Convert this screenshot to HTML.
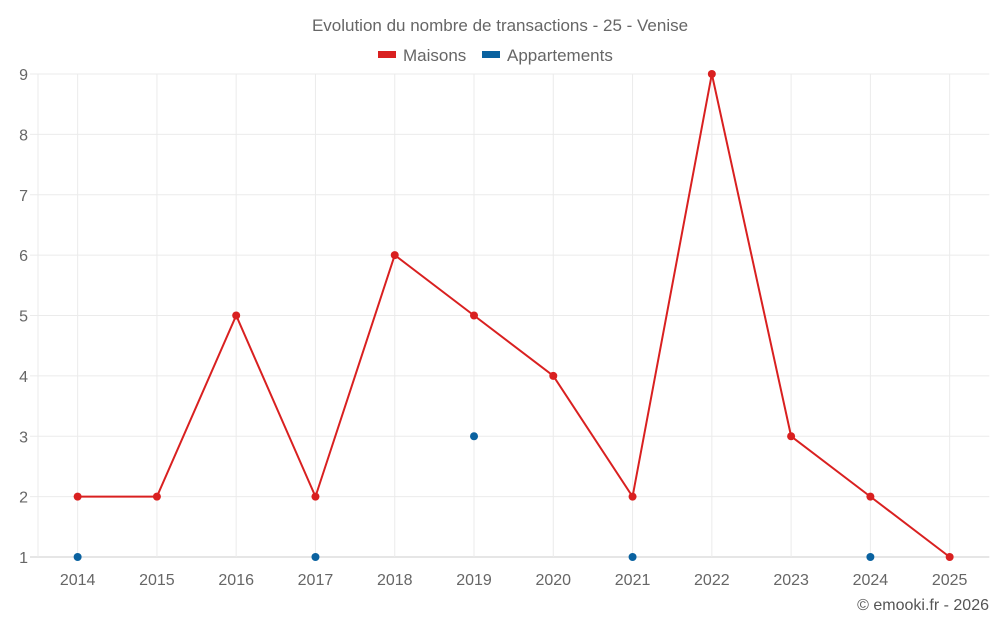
<!DOCTYPE html>
<html><head><meta charset="utf-8"><style>
html,body{margin:0;padding:0;background:#fff;}
svg{display:block;font-family:"Liberation Sans",sans-serif;}
</style></head><body>
<svg id="chart" width="1000" height="625">
<text x="500" y="31" text-anchor="middle" font-size="17" fill="#666">Evolution du nombre de transactions - 25 - Venise</text>
<g><rect x="378" y="51" width="18" height="7" fill="#d92020"/><text x="403" y="61" font-size="17" fill="#666">Maisons</text></g>
<g><rect x="482" y="51" width="18" height="7" fill="#0a62a0"/><text x="507" y="61" font-size="17" fill="#666">Appartements</text></g>
<g id="grid"></g><g id="axes"></g><g id="series"></g>
<text x="989" y="610" text-anchor="end" font-size="16" fill="#555">© emooki.fr - 2026</text>
</svg>
<script>
const categories=["2014","2015","2016","2017","2018","2019","2020","2021","2022","2023","2024","2025"];
const maisons=[2,2,5,2,6,5,4,2,9,3,2,1];
const appartements=[1,null,null,1,null,3,null,1,null,null,1,null];
const yTicks=[1,2,3,4,5,6,7,8,9];
const L=38,R=989.3,T=74,B=557,yMin=1,yMax=9;
const bw=(R-L)/categories.length;
const x=i=>L+bw*(i+0.5);
const y=v=>B-(v-yMin)/(yMax-yMin)*(B-T);
const NS="http://www.w3.org/2000/svg";
function mk(t,a,p){const e=document.createElementNS(NS,t);for(const k in a)e.setAttribute(k,a[k]);p.appendChild(e);return e;}
const grid=document.getElementById('grid'),axes=document.getElementById('axes'),ser=document.getElementById('series');
yTicks.forEach(v=>{
 const l=mk('line',{x1:L-8,x2:R,y1:y(v),y2:y(v),stroke:v===yMin?'#ccc':'#ebebeb','stroke-width':1},grid);
 
 
 const t=mk('text',{x:28,y:y(v)+6,'text-anchor':'end','font-size':16,fill:'#666'},axes);
 t.textContent=v;
 
 
});
const l0=mk('line',{x1:L,x2:L,y1:T,y2:B,stroke:'#ebebeb','stroke-width':1},grid);


categories.forEach((c,i)=>{
 const l=mk('line',{x1:x(i),x2:x(i),y1:T,y2:B,stroke:'#ebebeb','stroke-width':1},grid);
 
 
});
categories.forEach((c,i)=>{
 const t=mk('text',{x:x(i),y:585,'text-anchor':'middle','font-size':16,fill:'#666'},axes);
 t.textContent=c;
 
 
});
const p=mk('polyline',{points:maisons.map((v,i)=>x(i)+','+y(v)).join(' '),fill:'none',stroke:'#d92020','stroke-width':2},ser);


maisons.forEach((v,i)=>{
 const c=mk('circle',{cx:x(i),cy:y(v),r:4,fill:'#d92020'},ser);
 
 
});
appartements.forEach((v,i)=>{
 if(v===null)return;
 const c=mk('circle',{cx:x(i),cy:y(v),r:4,fill:'#0a62a0'},ser);
 
 
});
</script>
</body></html>
